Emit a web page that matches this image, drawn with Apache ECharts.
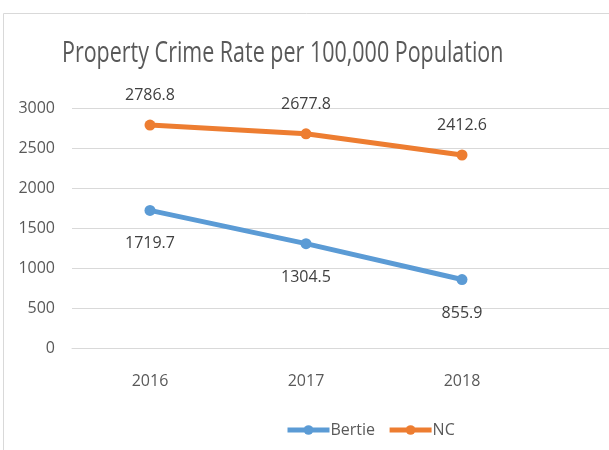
<!DOCTYPE html>
<html><head><meta charset="utf-8">
<script src="https://cdn.jsdelivr.net/npm/echarts@6/dist/echarts.min.js"></script>
<style>html,body{margin:0;padding:0;background:#fff}#c{width:609px;height:450px}</style>
</head><body><div id="c"></div>
<script>
const categories = ['2016', '2017', '2018', ''];
const bertie = [1719.7, 1304.5, 855.9, null];
const nc = [2786.8, 2677.8, 2412.6, null];
const yTicks = [0, 500, 1000, 1500, 2000, 2500, 3000];
const titleText = 'Property Crime Rate per 100,000 Population';

const FONT = '"Open Sans", sans-serif';
const chart = echarts.init(document.getElementById('c'));
chart.setOption({
  animation: false,
  textStyle: { fontFamily: FONT },
  graphic: [{
    type: 'rect', shape: { x: 3.5, y: 13.5, width: 700, height: 500 },
    style: { fill: null, stroke: '#d9d9d9', lineWidth: 1 }, silent: true
  }, {
    type: 'text', x: 62, y: 53, scaleX: 0.716, silent: true,
    style: { text: titleText, fontFamily: FONT, fontSize: 30, fill: '#595959', verticalAlign: 'middle', align: 'left' }
  }],
  legend: {
    left: 280, top: 417, itemWidth: 42, itemHeight: 12, itemGap: 12,
    lineStyle: { width: 5 },
    textStyle: { fontFamily: FONT, fontSize: 16, color: '#595959', padding: [0,0,0,-4] },
    data: ['Bertie', 'NC']
  },
  grid: { left: 72, top: 108, width: 624, height: 240, containLabel: false, outerBoundsMode: 'none' },
  xAxis: {
    type: 'category', data: categories, boundaryGap: true,
    axisLine: { show: true, lineStyle: { color: '#d9d9d9' } },
    axisTick: { show: false },
    axisLabel: { color: '#595959', fontSize: 16, margin: 25, fontFamily: FONT }
  },
  yAxis: {
    type: 'value', min: 0, max: yTicks[yTicks.length-1], interval: 500,
    axisLine: { show: false }, axisTick: { show: false },
    axisLabel: { color: '#595959', fontSize: 16, margin: 17, fontFamily: FONT, formatter: v => String(v) },
    splitLine: { lineStyle: { color: '#d9d9d9', width: 1 } }
  },
  series: [{
    name: 'Bertie', type: 'line', data: bertie,
    symbol: 'circle', symbolSize: 11,
    itemStyle: { color: '#5B9BD5' }, lineStyle: { width: 5, color: '#5B9BD5' },
    label: { show: true, position: 'bottom', distance: 20, fontSize: 16, color: '#404040', fontFamily: FONT }
  }, {
    name: 'NC', type: 'line', data: nc,
    symbol: 'circle', symbolSize: 11,
    itemStyle: { color: '#ED7D31' }, lineStyle: { width: 5, color: '#ED7D31' },
    label: { show: true, position: 'top', distance: 16, fontSize: 16, color: '#404040', fontFamily: FONT }
  }]
});
</script></body></html>
